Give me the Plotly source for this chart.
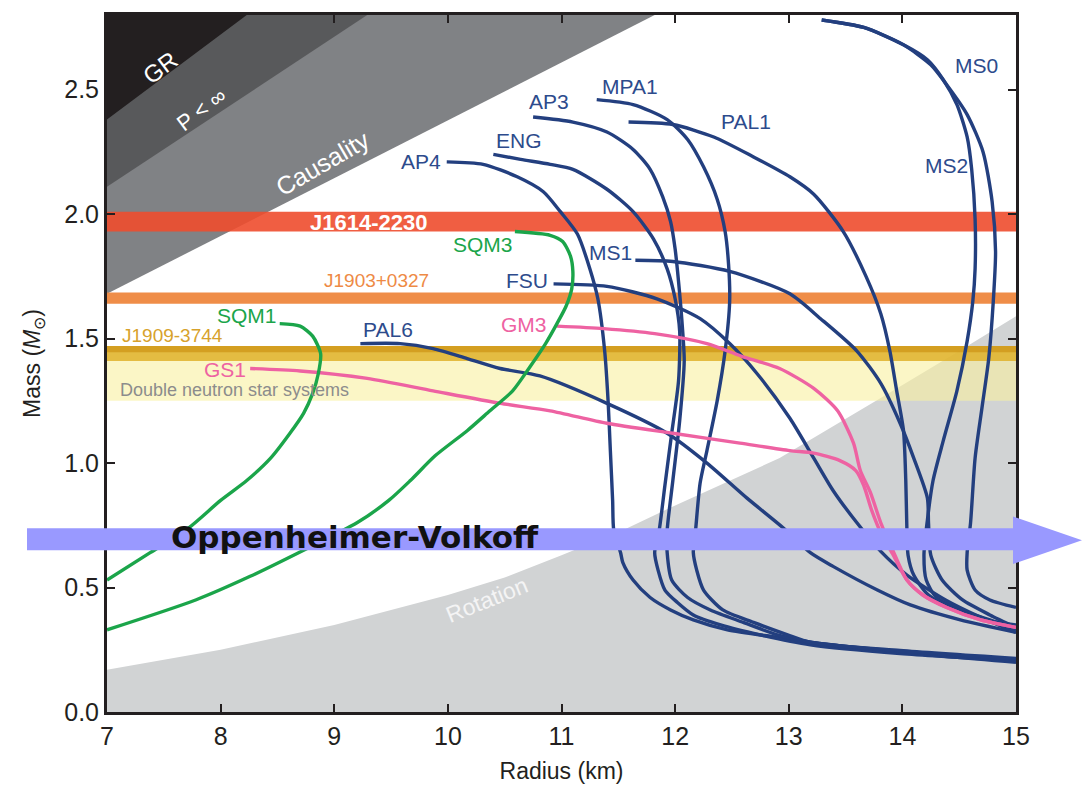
import plotly.graph_objects as go

# ---------------- data ----------------
x_min, x_max = 7.0, 15.0
y_min, y_max = 0.0, 2.8
x_ticks = [7, 8, 9, 10, 11, 12, 13, 14, 15]
y_ticks = [0.0, 0.5, 1.0, 1.5, 2.0, 2.5]

# excluded regions (boundary)
gr_R = [7.0, 8.23, 7.0]
gr_M = [2.38, 2.8, 2.8]
pinf_R = [7.0, 9.29, 7.0]
pinf_M = [2.11, 2.8, 2.8]
caus_R = [7.0, 11.82, 7.0]
caus_M = [1.68, 2.8, 2.8]
rot_R = [7, 8, 9, 10, 10.5, 11, 11.54, 12, 12.92, 13.95, 14.5, 15]
rot_M = [0.17, 0.25, 0.35, 0.47, 0.54, 0.63, 0.73, 0.83, 1.02, 1.30, 1.45, 1.59]

# measured mass bands
band_names = ["Double neutron star systems", "J1909-3744", "J1909-3744 edge", "J1903+0327", "J1614-2230"]
band_lo = [1.25, 1.41, 1.445, 1.64, 1.93]
band_hi = [1.41, 1.47, 1.47, 1.685, 2.01]
band_colors = ["rgba(248,240,160,0.6)", "rgba(226,182,50,0.92)", "rgba(210,155,30,0.9)",
               "rgba(238,132,58,0.93)", "rgba(238,76,46,0.9)"]

# mass-radius curves
AP4_R = [9.99, 10.31, 10.61, 10.84, 10.99, 11.14, 11.25, 11.32, 11.38, 11.41, 11.43, 11.45, 11.46, 11.52, 11.54, 11.63, 11.78, 11.96, 12.16, 12.46, 12.90, 13.19, 13.98, 15.0]
AP4_M = [2.21, 2.20, 2.15, 2.09, 2.01, 1.92, 1.78, 1.66, 1.45, 1.25, 1.05, 0.85, 0.73, 0.64, 0.60, 0.53, 0.46, 0.41, 0.37, 0.33, 0.30, 0.28, 0.24, 0.20]
ENG_R = [10.40, 10.64, 10.90, 11.10, 11.40, 11.63, 11.81, 11.93, 12.00, 12.04, 12.03, 11.97, 11.91, 11.86, 11.82, 11.85, 11.91, 12.02, 12.16, 12.40, 12.75, 13.19, 13.98, 15.0]
ENG_M = [2.24, 2.22, 2.20, 2.18, 2.10, 2.01, 1.90, 1.78, 1.66, 1.53, 1.33, 1.12, 0.91, 0.73, 0.64, 0.57, 0.49, 0.44, 0.39, 0.35, 0.31, 0.27, 0.235, 0.207]
AP3_R = [10.75, 11.10, 11.40, 11.63, 11.78, 11.89, 11.96, 12.00, 12.03, 12.06, 12.08, 12.04, 11.98, 11.93, 11.93, 11.97, 12.11, 12.31, 12.60, 12.90, 13.19, 13.98, 15.0]
AP3_M = [2.39, 2.37, 2.33, 2.26, 2.18, 2.07, 1.97, 1.86, 1.73, 1.57, 1.41, 1.17, 0.93, 0.73, 0.64, 0.53, 0.46, 0.41, 0.36, 0.31, 0.28, 0.243, 0.211]
MPA1_R = [11.31, 11.63, 11.93, 12.11, 12.25, 12.37, 12.44, 12.47, 12.48, 12.44, 12.37, 12.28, 12.22, 12.18, 12.16, 12.19, 12.25, 12.42, 12.69, 12.99, 13.19, 13.98, 15.0]
MPA1_M = [2.46, 2.44, 2.38, 2.30, 2.19, 2.06, 1.93, 1.80, 1.65, 1.45, 1.25, 1.05, 0.92, 0.73, 0.64, 0.57, 0.49, 0.41, 0.36, 0.31, 0.28, 0.247, 0.215]
PAL1_R = [11.59, 11.98, 12.34, 12.69, 13.01, 13.22, 13.48, 13.68, 13.81, 13.89, 13.95, 14.01, 14.03, 14.04, 14.05, 14.10, 14.23, 14.47, 14.73, 15.0]
PAL1_M = [2.37, 2.36, 2.31, 2.23, 2.15, 2.08, 1.93, 1.75, 1.60, 1.45, 1.29, 1.13, 0.93, 0.73, 0.63, 0.55, 0.47, 0.41, 0.37, 0.35]
MS2_R = [13.29, 13.66, 14.01, 14.22, 14.36, 14.48, 14.57, 14.61, 14.64, 14.64, 14.62, 14.57, 14.48, 14.36, 14.27, 14.22, 14.19, 14.21, 14.30, 14.51, 14.77, 15.0]
MS2_M = [2.78, 2.75, 2.68, 2.62, 2.54, 2.44, 2.31, 2.18, 1.98, 1.78, 1.65, 1.49, 1.29, 1.09, 0.93, 0.77, 0.63, 0.53, 0.46, 0.41, 0.37, 0.33]
MS0_R = [13.29, 13.66, 14.01, 14.25, 14.39, 14.57, 14.71, 14.79, 14.82, 14.80, 14.76, 14.70, 14.64, 14.60, 14.57, 14.57, 14.64, 14.77, 15.0]
MS0_M = [2.78, 2.75, 2.68, 2.60, 2.52, 2.40, 2.25, 2.05, 1.85, 1.65, 1.42, 1.22, 1.02, 0.76, 0.64, 0.57, 0.49, 0.45, 0.42]
MS1_R = [11.65, 11.98, 12.48, 13.01, 13.28, 13.60, 13.81, 13.98, 14.10, 14.22, 14.23, 14.25, 14.35, 14.53, 14.77, 15.0]
MS1_M = [1.815, 1.81, 1.77, 1.68, 1.58, 1.45, 1.32, 1.16, 1.02, 0.86, 0.76, 0.63, 0.53, 0.45, 0.39, 0.34]
FSU_R = [10.93, 11.40, 11.84, 12.22, 12.48, 12.72, 13.01, 13.22, 13.39, 13.60, 13.81, 14.04, 14.38, 14.69, 15.0]
FSU_M = [1.72, 1.71, 1.66, 1.58, 1.48, 1.36, 1.18, 1.02, 0.89, 0.76, 0.645, 0.55, 0.45, 0.38, 0.32]
PAL6_R = [9.23, 9.58, 9.87, 10.17, 10.46, 10.81, 11.40, 11.93, 12.28, 12.63, 12.95, 13.19, 13.39, 13.78, 14.07, 14.51, 15.0]
PAL6_M = [1.48, 1.48, 1.46, 1.42, 1.38, 1.35, 1.24, 1.12, 1.00, 0.86, 0.74, 0.64, 0.585, 0.49, 0.43, 0.37, 0.32]
GM3_R = [10.96, 11.37, 11.82, 12.28, 12.58, 12.92, 13.22, 13.43, 13.57, 13.63, 13.72, 13.81, 13.92, 14.04, 14.18, 14.39, 14.69, 15.0]
GM3_M = [1.55, 1.54, 1.52, 1.48, 1.43, 1.38, 1.30, 1.21, 1.08, 0.97, 0.88, 0.76, 0.645, 0.53, 0.47, 0.42, 0.37, 0.34]
GS1_R = [8.26, 8.70, 9.29, 9.87, 10.46, 10.90, 11.40, 11.98, 12.57, 13.01, 13.22, 13.45, 13.59, 13.66, 13.73, 13.82, 13.92, 14.04, 14.18, 14.39, 14.69, 15.0]
GS1_M = [1.38, 1.37, 1.34, 1.29, 1.24, 1.21, 1.16, 1.12, 1.08, 1.05, 1.04, 1.01, 0.97, 0.91, 0.81, 0.71, 0.63, 0.53, 0.47, 0.42, 0.37, 0.34]
SQM3_R = [10.59, 10.90, 11.01, 11.08, 11.10, 11.09, 11.04, 10.96, 10.86, 10.72, 10.57, 10.37, 10.17, 9.89, 9.67, 9.48, 9.20, 8.73, 8.26, 7.78, 7.0]
SQM3_M = [1.93, 1.915, 1.89, 1.83, 1.77, 1.70, 1.63, 1.56, 1.48, 1.385, 1.29, 1.21, 1.13, 1.03, 0.93, 0.85, 0.76, 0.65, 0.545, 0.45, 0.33]
SQM1_R = [8.52, 8.70, 8.81, 8.88, 8.86, 8.81, 8.73, 8.61, 8.44, 8.23, 8.00, 7.72, 7.38, 7.0]
SQM1_M = [1.56, 1.55, 1.51, 1.44, 1.36, 1.28, 1.20, 1.12, 1.02, 0.93, 0.85, 0.74, 0.64, 0.53]

# curve labels
label_text = ["AP4", "ENG", "AP3", "MPA1", "PAL1", "MS0", "MS2", "MS1", "FSU", "PAL6", "GM3", "GS1", "SQM3", "SQM1"]
label_R = [9.76, 10.63, 10.89, 11.60, 12.62, 14.65, 14.39, 11.43, 10.70, 9.47, 10.67, 8.04, 10.31, 8.23]
label_M = [2.213, 2.297, 2.452, 2.512, 2.373, 2.596, 2.197, 1.847, 1.732, 1.537, 1.557, 1.377, 1.879, 1.592]

# ---------------- styles ----------------
BLUE = "#233f7f"
BLUE_TXT = "#2d4b8c"
GREEN = "#1ba54a"
PINK = "#ee62a2"
AXIS = "#231f20"
FONT = "Liberation Sans, Arial, Helvetica, sans-serif"

curves = [
    (AP4_R, AP4_M, BLUE), (ENG_R, ENG_M, BLUE), (AP3_R, AP3_M, BLUE), (MPA1_R, MPA1_M, BLUE),
    (PAL1_R, PAL1_M, BLUE), (MS2_R, MS2_M, BLUE), (MS0_R, MS0_M, BLUE), (MS1_R, MS1_M, BLUE),
    (FSU_R, FSU_M, BLUE), (PAL6_R, PAL6_M, BLUE), (GS1_R, GS1_M, PINK), (GM3_R, GM3_M, PINK),
    (SQM3_R, SQM3_M, GREEN), (SQM1_R, SQM1_M, GREEN),
]
label_colors = {"GM3": PINK, "GS1": PINK, "SQM3": GREEN, "SQM1": GREEN}

fig = go.Figure()


def region(R, M, color):
    fig.add_trace(go.Scatter(x=R, y=M, fill="toself", fillcolor=color, mode="none",
                             hoverinfo="skip", showlegend=False))


# rotation region (below the curve down to M = 0)
region(rot_R + [rot_R[-1], rot_R[0]], rot_M + [y_min, y_min], "#d1d3d4")
# causality, P<inf, GR
region(caus_R, caus_M, "#808285")
region(pinf_R, pinf_M, "#58595b")
region(gr_R, gr_M, "#231f20")

# mass bands
for lo, hi, col in zip(band_lo, band_hi, band_colors):
    region([x_min, x_max, x_max, x_min], [lo, lo, hi, hi], col)

# curves
for R, M, col in curves:
    fig.add_trace(go.Scatter(x=R, y=M, mode="lines", hoverinfo="skip", showlegend=False,
                             line=dict(color=col, width=3.4, shape="spline", smoothing=0.7)))

ann = []
for t, r, m in zip(label_text, label_R, label_M):
    ann.append(dict(x=r, y=m, text=t, showarrow=False, xanchor="center", yanchor="middle",
                    font=dict(family=FONT, size=21, color=label_colors.get(t, BLUE_TXT))))

# region / band labels
extra = [
    dict(x=7.47, y=2.59, text="GR", textangle=-37, font=dict(family=FONT, size=24, color="white")),
    dict(x=7.83, y=2.42, text="P < ∞", textangle=-37, font=dict(family=FONT, size=22, color="white")),
    dict(x=8.90, y=2.205, text="Causality", textangle=-30, font=dict(family=FONT, size=25, color="white")),
    dict(x=10.34, y=0.45, text="Rotation", textangle=-22, font=dict(family=FONT, size=23, color="#f4f4f4")),
    dict(x=9.30, y=1.967, text="<b>J1614-2230</b>", font=dict(family=FONT, size=22, color="white")),
    dict(x=9.37, y=1.735, text="J1903+0327", font=dict(family=FONT, size=19, color="#ee8a45")),
    dict(x=7.11, y=1.513, text="J1909-3744", xanchor="left", font=dict(family=FONT, size=19, color="#d7a22c")),
    dict(x=7.10, y=1.294, text="Double neutron star systems", xanchor="left",
         font=dict(family=FONT, size=18, color="#8c8c8c")),
]
for a in extra:
    a.setdefault("showarrow", False)
    a.setdefault("xanchor", "center")
    a["yanchor"] = "middle"
ann += extra

# Oppenheimer-Volkoff arrow (paper coordinates, decoration)
ax0, ax1, axt = -0.088, 0.9967, 1.0726
ayb, ayt, ahb, aht, ayc = 0.2322, 0.2635, 0.2123, 0.2806, 0.2464
arrow_path = (f"M {ax0},{ayb} L {ax1},{ayb} L {ax1},{ahb} L {axt},{ayc} "
              f"L {ax1},{aht} L {ax1},{ayt} L {ax0},{ayt} Z")
shapes = [dict(type="path", xref="paper", yref="paper", path=arrow_path,
               fillcolor="#9999ff", line=dict(width=0), layer="above")]
ann.append(dict(xref="paper", yref="paper", x=0.273, y=0.2505, showarrow=False,
                text="<b>Oppenheimer-Volkoff</b>", xanchor="center", yanchor="middle",
                font=dict(family="DejaVu Sans, Verdana, sans-serif", size=31, color="#111111")))

axis_common = dict(ticks="inside", ticklen=8, tickwidth=2, tickcolor=AXIS, showline=True,
                   linewidth=3, linecolor=AXIS, mirror="ticks", showgrid=False, zeroline=False,
                   tickfont=dict(family=FONT, size=25, color=AXIS))

fig.update_layout(
    width=1084, height=792,
    margin=dict(l=107, r=68, t=12, b=78),
    paper_bgcolor="white", plot_bgcolor="white",
    showlegend=False,
    xaxis=dict(range=[x_min, x_max], tickvals=x_ticks,
               title=dict(text="Radius (km)", font=dict(family=FONT, size=23, color=AXIS), standoff=14),
               **axis_common),
    yaxis=dict(range=[y_min, y_max], tickvals=y_ticks, tickformat=".1f",
               title=dict(text="Mass (<i>M</i><sub>⊙</sub>)", font=dict(family=FONT, size=23, color=AXIS),
                          standoff=18),
               **axis_common),
    annotations=ann,
    shapes=shapes,
)

fig.write_html("out.html", config={"displayModeBar": False},
               post_script="document.body.style.margin='0';document.body.style.overflow='hidden';")
